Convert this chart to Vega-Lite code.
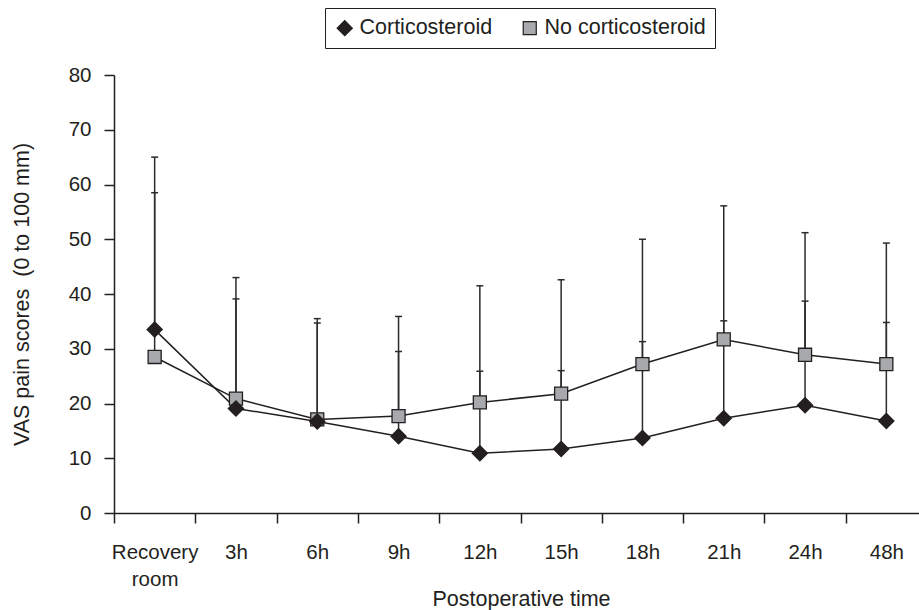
{
  "$schema": "https://vega.github.io/schema/vega-lite/v6.json",
  "width": 805,
  "height": 438,
  "autosize": {"type": "none"},
  "padding": {"left": 114, "top": 75, "right": 0, "bottom": 97},
  "background": "white",
  "config": {
    "view": {"stroke": null},
    "font": "Liberation Sans",
    "axis": {
      "domainColor": "#231f20",
      "domainWidth": 1.5,
      "tickColor": "#231f20",
      "tickWidth": 1.5,
      "tickSize": 10,
      "labelFont": "Liberation Sans",
      "labelFontSize": 20.5,
      "labelColor": "#231f20",
      "titleFont": "Liberation Sans",
      "titleFontSize": 21.5,
      "titleFontWeight": "normal",
      "titleColor": "#231f20",
      "grid": false
    }
  },
  "data": {
    "values": [
      {"series": "No corticosteroid", "idx": 0, "time": "Recovery room", "mean": 28.5, "upper": 65.0},
      {"series": "No corticosteroid", "idx": 1, "time": "3h", "mean": 20.9, "upper": 43.0},
      {"series": "No corticosteroid", "idx": 2, "time": "6h", "mean": 17.1, "upper": 35.5},
      {"series": "No corticosteroid", "idx": 3, "time": "9h", "mean": 17.7, "upper": 35.9},
      {"series": "No corticosteroid", "idx": 4, "time": "12h", "mean": 20.2, "upper": 41.5},
      {"series": "No corticosteroid", "idx": 5, "time": "15h", "mean": 21.8, "upper": 42.6},
      {"series": "No corticosteroid", "idx": 6, "time": "18h", "mean": 27.2, "upper": 50.0},
      {"series": "No corticosteroid", "idx": 7, "time": "21h", "mean": 31.7, "upper": 56.1},
      {"series": "No corticosteroid", "idx": 8, "time": "24h", "mean": 28.9, "upper": 51.2},
      {"series": "No corticosteroid", "idx": 9, "time": "48h", "mean": 27.2, "upper": 49.3},
      {"series": "Corticosteroid", "idx": 0, "time": "Recovery room", "mean": 33.5, "upper": 58.5},
      {"series": "Corticosteroid", "idx": 1, "time": "3h", "mean": 19.1, "upper": 39.1},
      {"series": "Corticosteroid", "idx": 2, "time": "6h", "mean": 16.7, "upper": 34.7},
      {"series": "Corticosteroid", "idx": 3, "time": "9h", "mean": 14.0, "upper": 29.5},
      {"series": "Corticosteroid", "idx": 4, "time": "12h", "mean": 10.9, "upper": 25.9},
      {"series": "Corticosteroid", "idx": 5, "time": "15h", "mean": 11.7, "upper": 26.0},
      {"series": "Corticosteroid", "idx": 6, "time": "18h", "mean": 13.7, "upper": 31.3},
      {"series": "Corticosteroid", "idx": 7, "time": "21h", "mean": 17.3, "upper": 35.1},
      {"series": "Corticosteroid", "idx": 8, "time": "24h", "mean": 19.7, "upper": 38.7},
      {"series": "Corticosteroid", "idx": 9, "time": "48h", "mean": 16.8, "upper": 34.8}
    ]
  },
  "encoding": {
    "x": {
      "field": "time",
      "type": "nominal",
      "sort": ["Recovery room", "3h", "6h", "9h", "12h", "15h", "18h", "21h", "24h", "48h"],
      "scale": {"type": "band", "range": [0, 813], "paddingInner": 0, "paddingOuter": 0},
      "axis": {
        "title": "Postoperative time",
        "labelAngle": 0,
        "tickBand": "extent",
        "labelPadding": 19,
        "labelLineHeight": 27,
        "labelExpr": "datum.label == 'Recovery room' ? ['Recovery', 'room'] : datum.label",
        "titleX": 407,
        "titleY": 92,
        "titleBaseline": "alphabetic"
      }
    }
  },
  "layer": [
    {
      "mark": {"type": "rule", "color": "#2b2b2b", "strokeWidth": 1.5},
      "encoding": {
        "y": {
          "field": "mean",
          "type": "quantitative",
          "scale": {"domain": [0, 80], "nice": false},
          "axis": {
            "title": "VAS pain scores \u00a0(0 to 100 mm)",
            "values": [0, 10, 20, 30, 40, 50, 60, 70, 80],
            "labelPadding": 13,
            "titleX": -92,
            "titleBaseline": "middle"
          }
        },
        "y2": {"field": "upper"}
      }
    },
    {
      "mark": {"type": "tick", "color": "#2b2b2b", "size": 7, "thickness": 1.5, "opacity": 1},
      "encoding": {
        "y": {"field": "upper", "type": "quantitative"}
      }
    },
    {
      "mark": {"type": "line", "color": "#231f20", "strokeWidth": 1.5},
      "encoding": {
        "y": {"field": "mean", "type": "quantitative"},
        "detail": {"field": "series"},
        "order": {"field": "idx"}
      }
    },
    {
      "mark": {"type": "point", "filled": true, "opacity": 1, "stroke": "#231f20", "strokeWidth": 1.3},
      "encoding": {
        "y": {"field": "mean", "type": "quantitative"},
        "color": {
          "field": "series",
          "type": "nominal",
          "scale": {"domain": ["Corticosteroid", "No corticosteroid"], "range": ["#231f20", "#a7a9ac"]},
          "legend": {
            "title": null,
            "orient": "none",
            "legendX": 211,
            "legendY": -67,
            "direction": "horizontal",
            "strokeColor": "#231f20",
            "padding": 9,
            "labelFontSize": 21.5,
            "labelLimit": 400,
            "labelColor": "#231f20",
            "labelFont": "Liberation Sans",
            "labelOffset": 4,
            "columnPadding": 26,
            "symbolOpacity": 1,
            "symbolStrokeColor": "#231f20",
            "symbolStrokeWidth": 1.2
          }
        },
        "shape": {
          "field": "series",
          "type": "nominal",
          "scale": {"domain": ["Corticosteroid", "No corticosteroid"], "range": ["diamond", "square"]}
        },
        "size": {
          "field": "series",
          "type": "nominal",
          "scale": {"domain": ["Corticosteroid", "No corticosteroid"], "range": [230, 170]}
        }
      }
    }
  ]
}
